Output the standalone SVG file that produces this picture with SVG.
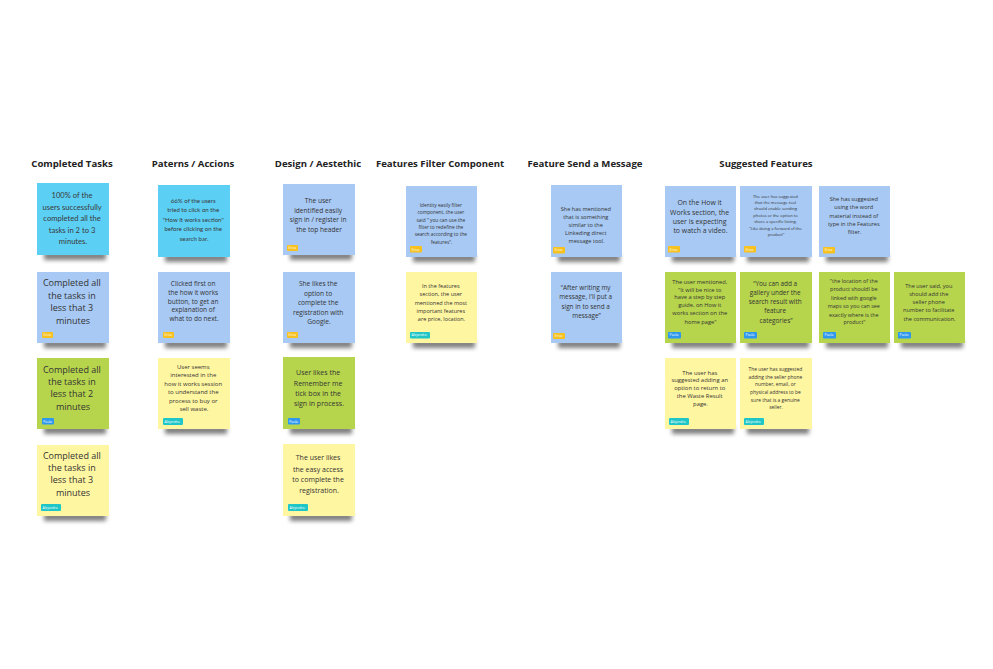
<svg xmlns="http://www.w3.org/2000/svg" width="993" height="669" viewBox="0 0 993 669">
<defs>
<filter id="sh" x="-30%" y="-200%" width="160%" height="500%"><feGaussianBlur stdDeviation="2.2"/></filter>
<style>
.h{font-family:"Open Sans","Liberation Sans",sans-serif;font-weight:bold;font-size:9.6px;fill:#222;text-anchor:middle}
.t{font-family:"Open Sans","Liberation Sans",sans-serif;fill:#333;text-anchor:middle}
.w{font-family:"Lato","Liberation Sans",sans-serif;fill:#3a3a3a;text-anchor:middle}
.cy{fill:#5ccff5}
.bl{fill:#a7c9f3}
.gr{fill:#b7d54c}
.ye{fill:#fff6a1}
.s{fill:#000;opacity:.5;filter:url(#sh);transform:translate(0,3px)}
.er{fill:#f7c21f}
.pa{fill:#2d98ee}
.al{fill:#1fc6c8}
.tg{font-family:"Open Sans","Liberation Sans",sans-serif;font-size:3.4px;fill:#fff}
</style>
</defs>
<rect width="993" height="669" fill="#fff"/>

<g id="headers">
<text class="h" x="72" y="167">Completed Tasks</text>
<text class="h" x="193" y="167">Paterns / Accions</text>
<text class="h" x="318" y="167">Design / Aestethic</text>
<text class="h" x="440" y="167">Features Filter Component</text>
<text class="h" x="585" y="167">Feature Send a Message</text>
<text class="h" x="766" y="167">Suggested Features</text>
</g>

<!-- Column 1 -->
<g id="c1n1">
<rect class="s" x="44" y="249" width="62" height="8"/>
<rect class="cy" x="37" y="183" width="72" height="72"/>
<text class="w" style="font-size:7.6px">
<tspan x="73" y="198">100% of the</tspan>
<tspan x="73" y="210">users successfully</tspan>
<tspan x="73" y="221">completed all the</tspan>
<tspan x="73" y="233">tasks in 2 to 3</tspan>
<tspan x="73" y="244">minutes.</tspan>
</text>
</g>
<g id="c1n2">
<rect class="s" x="44" y="337" width="62" height="8"/>
<rect class="bl" x="37" y="272" width="72" height="71"/>
<text class="t" style="font-size:9px">
<tspan x="73" y="286">Completed all</tspan>
<tspan x="73" y="299">the tasks in</tspan>
<tspan x="73" y="311">less that 3</tspan>
<tspan x="73" y="324">minutes</tspan>
</text>
<rect class="er" x="42" y="332" width="11" height="6" rx="1"/><text class="tg" x="43.5" y="336.3">Erica</text>
</g>
<g id="c1n3">
<rect class="s" x="44" y="423" width="62" height="8"/>
<rect class="gr" x="37" y="358" width="72" height="71"/>
<text class="t" style="font-size:9px">
<tspan x="73" y="373">Completed all</tspan>
<tspan x="73" y="385">the tasks in</tspan>
<tspan x="73" y="397">less that 2</tspan>
<tspan x="73" y="410">minutes</tspan>
</text>
<rect class="pa" x="42" y="418" width="12" height="6.5" rx="1"/><text class="tg" x="43.3" y="422.5">Paola</text>
</g>
<g id="c1n4">
<rect class="s" x="44" y="510" width="62" height="8"/>
<rect class="ye" x="37" y="445" width="72" height="71"/>
<text class="t" style="font-size:9px">
<tspan x="73" y="459">Completed all</tspan>
<tspan x="73" y="471">the tasks in</tspan>
<tspan x="73" y="483">less that 3</tspan>
<tspan x="73" y="496">minutes</tspan>
</text>
<rect class="al" x="41" y="504" width="20" height="7" rx="1"/><text class="tg" x="42.5" y="508.6">Alejandra</text>
</g>

<!-- Column 2 -->
<g id="c2n1">
<rect class="s" x="165" y="251" width="62" height="8"/>
<rect class="cy" x="158" y="185" width="72" height="72"/>
<text class="w" style="font-size:6.1px">
<tspan x="194" y="203">66% of the users</tspan>
<tspan x="194" y="212">tried to click on the</tspan>
<tspan x="194" y="222">"How It works section"</tspan>
<tspan x="194" y="231">before clicking on the</tspan>
<tspan x="194" y="241">search bar.</tspan>
</text>
</g>
<g id="c2n2">
<rect class="s" x="165" y="337" width="62" height="8"/>
<rect class="bl" x="158" y="272" width="72" height="71"/>
<text class="t" style="font-size:6.5px">
<tspan x="194" y="285.5">Clicked first on</tspan>
<tspan x="194" y="294.5">the how it works</tspan>
<tspan x="194" y="303.5">button, to get an</tspan>
<tspan x="194" y="311.5">explanation of</tspan>
<tspan x="194" y="320.5">what to do next.</tspan>
</text>
<rect class="er" x="163" y="332" width="11" height="6" rx="1"/><text class="tg" x="164.5" y="336.3">Erica</text>
</g>
<g id="c2n3">
<rect class="s" x="165" y="423" width="62" height="8"/>
<rect class="ye" x="158" y="358" width="72" height="71"/>
<text class="t" style="font-size:6px">
<tspan x="194" y="369">User seems</tspan>
<tspan x="194" y="377">interested in the</tspan>
<tspan x="194" y="385.5">how it works session</tspan>
<tspan x="194" y="394">to understand the</tspan>
<tspan x="194" y="402.5">process to buy or</tspan>
<tspan x="194" y="411">sell waste.</tspan>
</text>
<rect class="al" x="163" y="418" width="20" height="7" rx="1"/><text class="tg" x="164.5" y="422.6">Alejandra</text>
</g>

<!-- Column 3 -->
<g id="c3n1">
<rect class="s" x="290" y="249" width="62" height="8"/>
<rect class="bl" x="283" y="184" width="72" height="71"/>
<text class="t" style="font-size:6.6px">
<tspan x="319" y="202.5">The user</tspan>
<tspan x="319" y="212.5">identified easily</tspan>
<tspan x="319" y="221.5">sign in / register in</tspan>
<tspan x="319" y="231.5">the top header</tspan>
</text>
<rect class="er" x="287" y="245" width="11" height="6" rx="1"/><text class="tg" x="288.5" y="249.3">Erica</text>
</g>
<g id="c3n2">
<rect class="s" x="290" y="337" width="62" height="8"/>
<rect class="bl" x="283" y="272" width="72" height="71"/>
<text class="t" style="font-size:6.6px">
<tspan x="319" y="285.5">She likes the</tspan>
<tspan x="319" y="295.5">option to</tspan>
<tspan x="319" y="304.5">complete the</tspan>
<tspan x="319" y="314.5">registration with</tspan>
<tspan x="319" y="323.5">Google.</tspan>
</text>
<rect class="er" x="287" y="332" width="11" height="6" rx="1"/><text class="tg" x="288.5" y="336.3">Erica</text>
</g>
<g id="c3n3">
<rect class="s" x="290" y="423" width="62" height="8"/>
<rect class="gr" x="283" y="357" width="72" height="72"/>
<text class="t" style="font-size:7px">
<tspan x="319" y="374.5">User likes the</tspan>
<tspan x="319" y="385.5">Remember me</tspan>
<tspan x="319" y="395.5">tick box in the</tspan>
<tspan x="319" y="405.5">sign in process.</tspan>
</text>
<rect class="pa" x="288" y="418" width="12" height="6.5" rx="1"/><text class="tg" x="289.3" y="422.5">Paola</text>
</g>
<g id="c3n4">
<rect class="s" x="290" y="510" width="62" height="8"/>
<rect class="ye" x="283" y="444" width="72" height="72"/>
<text class="t" style="font-size:7px">
<tspan x="319" y="459.5">The user likes</tspan>
<tspan x="319" y="471.5">the easy access</tspan>
<tspan x="319" y="481.5">to complete the</tspan>
<tspan x="319" y="492.5">registration.</tspan>
</text>
<rect class="al" x="288" y="504" width="20" height="7" rx="1"/><text class="tg" x="289.5" y="508.6">Alejandra</text>
</g>

<!-- Column 4 -->
<g id="c4n1">
<rect class="s" x="413" y="251" width="62" height="8"/>
<rect class="bl" x="406" y="186" width="71" height="71"/>
<text class="t" style="font-size:4.8px">
<tspan x="441.5" y="206.7">Identity easily filter</tspan>
<tspan x="441.5" y="213.7">component, the user</tspan>
<tspan x="441.5" y="221.7">said " you can use the</tspan>
<tspan x="441.5" y="228.7">filter to redefine the</tspan>
<tspan x="441.5" y="235.7">search according to the</tspan>
<tspan x="441.5" y="243.7">features".</tspan>
</text>
<rect class="er" x="410" y="246" width="12" height="6.5" rx="1"/><text class="tg" x="411.8" y="250.5">Erica</text>
</g>
<g id="c4n2">
<rect class="s" x="413" y="337" width="62" height="8"/>
<rect class="ye" x="406" y="272" width="71" height="71"/>
<text class="t" style="font-size:5.5px">
<tspan x="441.5" y="288">In the features</tspan>
<tspan x="441.5" y="296">section, the user</tspan>
<tspan x="441.5" y="305">mentioned the most</tspan>
<tspan x="441.5" y="313">important features</tspan>
<tspan x="441.5" y="321">are price, location.</tspan>
</text>
<rect class="al" x="410" y="332" width="20" height="6.5" rx="1"/><text class="tg" x="411.5" y="336.4">Alejandra</text>
</g>

<!-- Column 5 -->
<g id="c5n1">
<rect class="s" x="558" y="251" width="62" height="8"/>
<rect class="bl" x="551" y="185" width="71" height="72"/>
<text class="t" style="font-size:5.6px">
<tspan x="586.5" y="211">She has mentioned</tspan>
<tspan x="586.5" y="219">that is something</tspan>
<tspan x="586.5" y="227">similar to the</tspan>
<tspan x="586.5" y="235">Linkeding direct</tspan>
<tspan x="586.5" y="243">message tool.</tspan>
</text>
<rect class="er" x="553" y="247" width="12" height="6.5" rx="1"/><text class="tg" x="554.8" y="251.4">Erica</text>
</g>
<g id="c5n2">
<rect class="s" x="558" y="337" width="62" height="8"/>
<rect class="bl" x="551" y="272" width="71" height="71"/>
<text class="t" style="font-size:6.4px">
<tspan x="586.5" y="290">“After writing my</tspan>
<tspan x="586.5" y="299">message, I'll put a</tspan>
<tspan x="586.5" y="309">sign in to send a</tspan>
<tspan x="586.5" y="318">message”</tspan>
</text>
<rect class="er" x="553" y="333" width="12" height="6" rx="1"/><text class="tg" x="554.8" y="337.2">Erica</text>
</g>

<!-- Suggested Features -->
<g id="s1">
<rect class="s" x="672" y="251" width="62" height="8"/>
<rect class="bl" x="665" y="186" width="71" height="71"/>
<text class="t" style="font-size:6.9px">
<tspan x="700.5" y="204.5">On the How it</tspan>
<tspan x="700.5" y="214.5">Works section, the</tspan>
<tspan x="700.5" y="223.5">user is expecting</tspan>
<tspan x="700.5" y="232.5">to watch a video.</tspan>
</text>
<rect class="er" x="668" y="246" width="12" height="6.5" rx="1"/><text class="tg" x="669.8" y="250.5">Erica</text>
</g>
<g id="s2">
<rect class="s" x="747" y="251" width="62" height="8"/>
<rect class="bl" x="740" y="186" width="72" height="71"/>
<text class="t" style="font-size:4.1px">
<tspan x="776" y="198.4">The user has suggested</tspan>
<tspan x="776" y="204.4">that the message tool</tspan>
<tspan x="776" y="210.4">should enable sending</tspan>
<tspan x="776" y="217.4">photos or the option to</tspan>
<tspan x="776" y="223.4">share a  specific listing.</tspan>
<tspan x="776" y="230.4">"Like doing a forward of the</tspan>
<tspan x="776" y="236.4">product"</tspan>
</text>
<rect class="er" x="744" y="246" width="12" height="6.5" rx="1"/><text class="tg" x="745.8" y="250.5">Erica</text>
</g>
<g id="s3">
<rect class="s" x="826" y="251" width="62" height="8"/>
<rect class="bl" x="819" y="186" width="71" height="71"/>
<text class="t" style="font-size:5.6px">
<tspan x="854.5" y="201">She has suggested</tspan>
<tspan x="854.5" y="209">using the word</tspan>
<tspan x="854.5" y="218">material instead of</tspan>
<tspan x="854.5" y="226">type in the  Features</tspan>
<tspan x="854.5" y="234">filter.</tspan>
</text>
<rect class="er" x="823" y="247" width="12" height="6.5" rx="1"/><text class="tg" x="824.8" y="251.4">Erica</text>
</g>
<g id="s4">
<rect class="s" x="672" y="337" width="62" height="8"/>
<rect class="gr" x="665" y="272" width="71" height="71"/>
<text class="t" style="font-size:5.7px">
<tspan x="700.5" y="284">The user mentioned,</tspan>
<tspan x="700.5" y="292">"It will be nice to</tspan>
<tspan x="700.5" y="299">have a step by step</tspan>
<tspan x="700.5" y="307">guide, on How it</tspan>
<tspan x="700.5" y="315">works section on the</tspan>
<tspan x="700.5" y="324">home page"</tspan>
</text>
<rect class="pa" x="668" y="332" width="13" height="6.5" rx="1"/><text class="tg" x="669.6" y="336.4">Paola</text>
</g>
<g id="s5">
<rect class="s" x="747" y="337" width="62" height="8"/>
<rect class="gr" x="740" y="272" width="72" height="71"/>
<text class="t" style="font-size:6.4px">
<tspan x="776" y="286.2">“You can add a</tspan>
<tspan x="776" y="295.2">gallery under the</tspan>
<tspan x="776" y="304.2">search result with</tspan>
<tspan x="776" y="313.2">feature</tspan>
<tspan x="776" y="323.2">categories”</tspan>
</text>
<rect class="pa" x="744" y="332" width="13" height="6.5" rx="1"/><text class="tg" x="745.6" y="336.4">Paola</text>
</g>
<g id="s6">
<rect class="s" x="826" y="337" width="62" height="8"/>
<rect class="gr" x="819" y="272" width="71" height="71"/>
<text class="t" style="font-size:5.4px">
<tspan x="854.5" y="283">"the location of the</tspan>
<tspan x="854.5" y="291">product shouldl be</tspan>
<tspan x="854.5" y="300">linked with google</tspan>
<tspan x="854.5" y="308">maps so you can see</tspan>
<tspan x="854.5" y="317">exactly where is the</tspan>
<tspan x="854.5" y="324">product"</tspan>
</text>
<rect class="pa" x="823" y="332" width="13" height="6.5" rx="1"/><text class="tg" x="824.6" y="336.4">Paola</text>
</g>
<g id="s7">
<rect class="s" x="901" y="337" width="62" height="8"/>
<rect class="gr" x="894" y="272" width="71" height="71"/>
<text class="t" style="font-size:5.6px">
<tspan x="929.5" y="288">The user said, you</tspan>
<tspan x="929.5" y="296">should add the</tspan>
<tspan x="929.5" y="304">seller phone</tspan>
<tspan x="929.5" y="312">number to facilitate</tspan>
<tspan x="929.5" y="321">the communication.</tspan>
</text>
<rect class="pa" x="898" y="332" width="13" height="6.5" rx="1"/><text class="tg" x="899.6" y="336.4">Paola</text>
</g>
<g id="s8">
<rect class="s" x="672" y="423" width="62" height="8"/>
<rect class="ye" x="665" y="358" width="71" height="71"/>
<text class="t" style="font-size:5.9px">
<tspan x="700.5" y="375">The user has</tspan>
<tspan x="700.5" y="382">suggested adding an</tspan>
<tspan x="700.5" y="390">option to return to</tspan>
<tspan x="700.5" y="398">the Waste Result</tspan>
<tspan x="700.5" y="406">page.</tspan>
</text>
<rect class="al" x="669" y="418" width="20" height="7" rx="1"/><text class="tg" x="670.5" y="422.6">Alejandra</text>
</g>
<g id="s9">
<rect class="s" x="747" y="423" width="62" height="8"/>
<rect class="ye" x="740" y="358" width="72" height="71"/>
<text class="t" style="font-size:4.9px">
<tspan x="776" y="370.7">The user has suggested</tspan>
<tspan x="776" y="378.7">adding the seller phone</tspan>
<tspan x="776" y="385.7">number, email, or</tspan>
<tspan x="776" y="393.7">physical address to be</tspan>
<tspan x="776" y="401.7">sure that is a genuine</tspan>
<tspan x="776" y="408.7">seller.</tspan>
</text>
<rect class="al" x="744" y="418" width="20" height="7" rx="1"/><text class="tg" x="745.5" y="422.6">Alejandra</text>
</g>

<g id="connectors"></g>
</svg>
